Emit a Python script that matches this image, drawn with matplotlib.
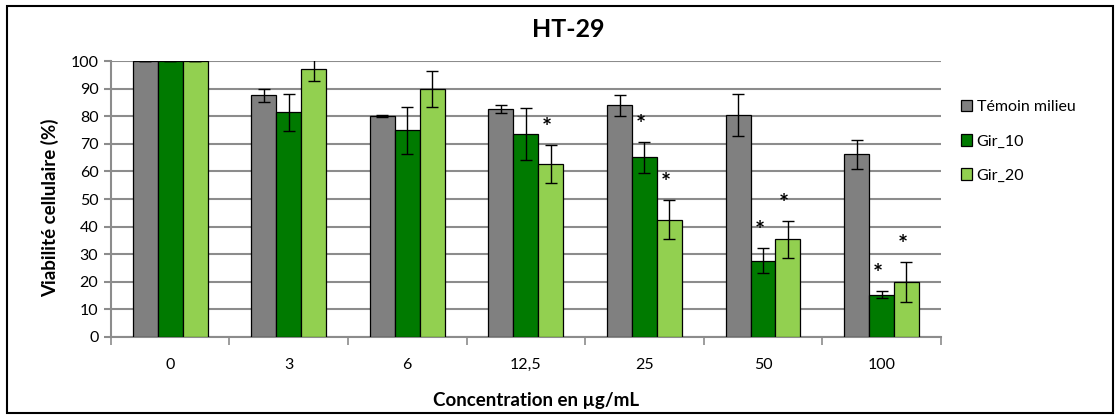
import numpy as np
import matplotlib.pyplot as plt
from matplotlib.patches import Rectangle

plt.rcParams['font.family'] = ['Lato', 'DejaVu Sans']

concentrations = ['0', '3', '6', '12,5', '25', '50', '100']
series_names = ['Témoin milieu', 'Gir_10', 'Gir_20']
temoin = [100, 87.6, 80.1, 82.6, 84.0, 80.4, 66.2]
temoin_err = [0, 2.4, 0.2, 1.4, 3.8, 7.6, 5.3]
gir10 = [100, 81.4, 74.9, 73.6, 65.1, 27.7, 15.3]
gir10_err = [0, 6.8, 8.6, 9.5, 5.6, 4.5, 1.3]
gir20 = [100, 97.3, 89.9, 62.7, 42.5, 35.4, 20.0]
gir20_err = [0, 4.5, 6.7, 6.9, 7.0, 6.7, 7.3]
# significance flags (*) per concentration
gir10_sig = [False, False, False, False, True, True, True]
gir20_sig = [False, False, False, True, True, True, True]

colors = ['#808080', '#007A00', '#92D050']

fig = plt.figure(figsize=(11.2, 4.16), dpi=100)
ax = fig.add_axes([0.099, 0.190, 0.741, 0.663])

x = np.arange(len(concentrations))
w = 0.21
values = [temoin, gir10, gir20]
errs = [temoin_err, gir10_err, gir20_err]
sigs = [None, gir10_sig, gir20_sig]
for i in range(3):
    xi = x + (i - 1) * w
    ax.bar(xi, values[i], w, color=colors[i], edgecolor='black', linewidth=0.9,
           label=series_names[i], zorder=3)
    ax.errorbar(xi, values[i], yerr=errs[i], fmt='none', ecolor='black',
                elinewidth=1, capsize=4, capthick=1, zorder=4, clip_on=True)
    if sigs[i] is not None:
        for j in range(len(x)):
            if sigs[i][j]:
                ax.text(xi[j] - 0.03, values[i][j] + errs[i][j] + 6, '*',
                        ha='center', va='center', fontsize=17, fontweight='bold')

ax.set_ylim(0, 100)
ax.set_xlim(-0.5, len(x) - 0.5)
ax.set_yticks(np.arange(0, 101, 10))
ax.yaxis.grid(True, color='#8c8c8c', linewidth=1.5, zorder=0)
ax.set_axisbelow(True)
ax.set_xticks(np.arange(-0.5, len(x), 1.0))
ax.set_xticklabels([])
ax.set_xticks(x, minor=True)
ax.set_xticklabels(concentrations, minor=True)
ax.tick_params(axis='x', which='major', length=6, width=1.2, color='#8c8c8c', direction='out')
ax.tick_params(axis='x', which='minor', length=0, pad=15, labelsize=11.5)
ax.tick_params(axis='y', length=5, width=1.5, color='#8c8c8c', labelsize=11.5, pad=4)
for s in ['top', 'right']:
    ax.spines[s].set_visible(False)
for s in ['left', 'bottom']:
    ax.spines[s].set_color('#8c8c8c')
    ax.spines[s].set_linewidth(1.5)

fig.text(0.507, 0.928, 'HT-29', fontsize=18, fontweight='bold', ha='center', va='center')
ax.set_ylabel('Viabilité cellulaire (%)', fontsize=13.5, fontweight='bold')
ax.yaxis.set_label_coords(-0.062, 0.47)
ax.set_xlabel('Concentration en µg/mL', fontsize=13.5, fontweight='bold')
ax.xaxis.set_label_coords(0.512, -0.2)

leg = fig.legend(loc='center left', bbox_to_anchor=(0.845, 0.66), frameon=False,
                 fontsize=11.5, handlelength=0.7, handleheight=0.7, handletextpad=0.3,
                 labelspacing=1.25)

fig.patches.append(Rectangle((0.006, 0.007), 0.988, 0.978, transform=fig.transFigure,
                             fill=False, edgecolor='black', linewidth=1.5))

plt.savefig('out.png', dpi=100)
